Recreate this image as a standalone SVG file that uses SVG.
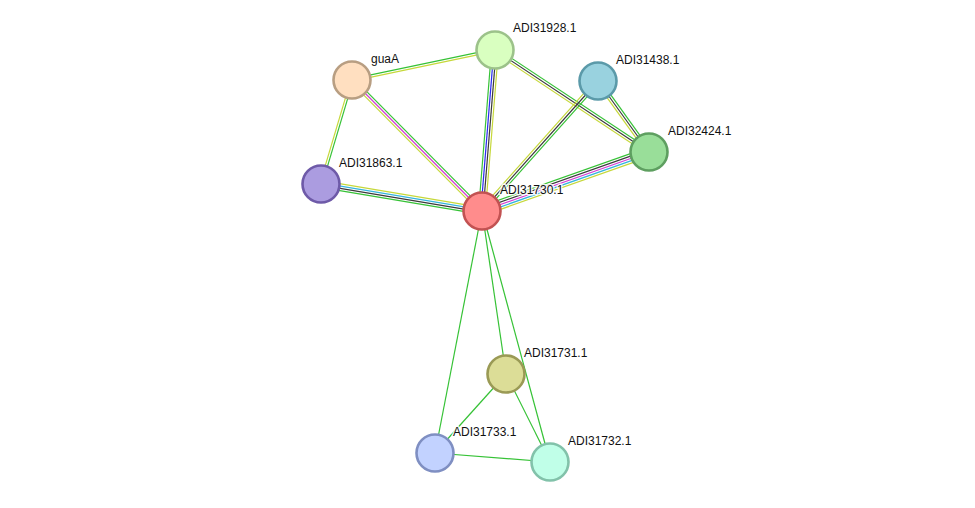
<svg xmlns="http://www.w3.org/2000/svg" width="975" height="508" viewBox="0 0 975 508">
<style>
line{stroke-width:1.2;fill:none}
.g{stroke:#36c236}.y{stroke:#c6d83a}.k{stroke:#3a3a3a}.b{stroke:#2b2bf0}.m{stroke:#d33dd3}.c{stroke:#33b5dd}
.n circle{stroke-width:2.6}
text{font-family:"Liberation Sans",Arial,sans-serif;font-size:12px;fill:#111;paint-order:stroke;stroke:#fff;stroke-width:3px;stroke-opacity:0.85;stroke-linejoin:round}
</style>
<rect width="975" height="508" fill="#fff"/>
<g id="connectors">
<g transform="translate(495,50) rotate(168.15)"><line class="g" x1="0" y1="1.15" x2="146.1" y2="1.15"/><line class="y" x1="0" y1="-1.15" x2="146.1" y2="-1.15"/></g>
<g transform="translate(495,50) rotate(94.62)"><line class="g" x1="0" y1="3.45" x2="161.5" y2="3.45"/><line class="b" x1="0" y1="1.15" x2="161.5" y2="1.15"/><line class="k" x1="0" y1="-1.15" x2="161.5" y2="-1.15"/><line class="y" x1="0" y1="-3.45" x2="161.5" y2="-3.45"/></g>
<g transform="translate(495,50) rotate(33.52)"><line class="g" x1="0" y1="-2.3" x2="184.7" y2="-2.3"/><line class="k" x1="0" y1="0" x2="184.7" y2="0"/><line class="y" x1="0" y1="2.3" x2="184.7" y2="2.3"/></g>
<g transform="translate(352,80) rotate(106.6)"><line class="y" x1="0" y1="1.15" x2="108.5" y2="1.15"/><line class="g" x1="0" y1="-1.15" x2="108.5" y2="-1.15"/></g>
<g transform="translate(352,80) rotate(45.22)"><line class="g" x1="0" y1="-2.3" x2="184.6" y2="-2.3"/><line class="m" x1="0" y1="0" x2="184.6" y2="0"/><line class="y" x1="0" y1="2.3" x2="184.6" y2="2.3"/></g>
<g transform="translate(321,184) rotate(9.52)"><line class="y" x1="0" y1="-3.45" x2="163.2" y2="-3.45"/><line class="c" x1="0" y1="-1.15" x2="163.2" y2="-1.15"/><line class="k" x1="0" y1="1.15" x2="163.2" y2="1.15"/><line class="g" x1="0" y1="3.45" x2="163.2" y2="3.45"/></g>
<g transform="translate(598,81) rotate(131.74)"><line class="y" x1="0" y1="2.3" x2="174.2" y2="2.3"/><line class="k" x1="0" y1="0" x2="174.2" y2="0"/><line class="g" x1="0" y1="-2.3" x2="174.2" y2="-2.3"/></g>
<g transform="translate(598,81) rotate(54.3)"><line class="y" x1="0" y1="2.3" x2="87.4" y2="2.3"/><line class="k" x1="0" y1="0" x2="87.4" y2="0"/><line class="g" x1="0" y1="-2.3" x2="87.4" y2="-2.3"/></g>
<g transform="translate(649,152) rotate(160.54)"><line class="g" x1="0" y1="4.6" x2="177.1" y2="4.6"/><line class="k" x1="0" y1="2.3" x2="177.1" y2="2.3"/><line class="m" x1="0" y1="0" x2="177.1" y2="0"/><line class="c" x1="0" y1="-2.3" x2="177.1" y2="-2.3"/><line class="y" x1="0" y1="-4.6" x2="177.1" y2="-4.6"/></g>
<line class="g" x1="482" y1="211" x2="506" y2="374"/>
<line class="g" x1="482" y1="211" x2="435" y2="453"/>
<line class="g" x1="482" y1="211" x2="550" y2="462"/>
<line class="g" x1="506" y1="374" x2="435" y2="453"/>
<line class="g" x1="506" y1="374" x2="550" y2="462"/>
<line class="g" x1="435" y1="453" x2="550" y2="462"/>
</g>
<g id="ADI31730.1" class="n"><circle cx="482" cy="211" r="18.5" fill="#ff8c8c" stroke="#c25252"/><text x="500" y="194">ADI31730.1</text></g>
<g id="ADI31928.1" class="n"><circle cx="495" cy="50" r="18.5" fill="#d9ffc0" stroke="#9cc28a"/><text x="513" y="32">ADI31928.1</text></g>
<g id="guaA" class="n"><circle cx="352" cy="80" r="18.5" fill="#ffdfc0" stroke="#b89e82"/><text x="371" y="63">guaA</text></g>
<g id="ADI31438.1" class="n"><circle cx="598" cy="81" r="18.5" fill="#99d2df" stroke="#5b9aa9"/><text x="616" y="64">ADI31438.1</text></g>
<g id="ADI32424.1" class="n"><circle cx="649" cy="152" r="18.5" fill="#99de99" stroke="#5e9f60"/><text x="668" y="135">ADI32424.1</text></g>
<g id="ADI31863.1" class="n"><circle cx="321" cy="184" r="18.5" fill="#ab9ce0" stroke="#6e5aa8"/><text x="339" y="167">ADI31863.1</text></g>
<g id="ADI31731.1" class="n"><circle cx="506" cy="374" r="18.5" fill="#dcdd97" stroke="#9a9a55"/><text x="524" y="357">ADI31731.1</text></g>
<g id="ADI31733.1" class="n"><circle cx="435" cy="453" r="18.5" fill="#c2d2ff" stroke="#7f8fc2"/><text x="453" y="436">ADI31733.1</text></g>
<g id="ADI31732.1" class="n"><circle cx="550" cy="462" r="18.5" fill="#c0ffe8" stroke="#82c2aa"/><text x="568" y="445">ADI31732.1</text></g>
</svg>
